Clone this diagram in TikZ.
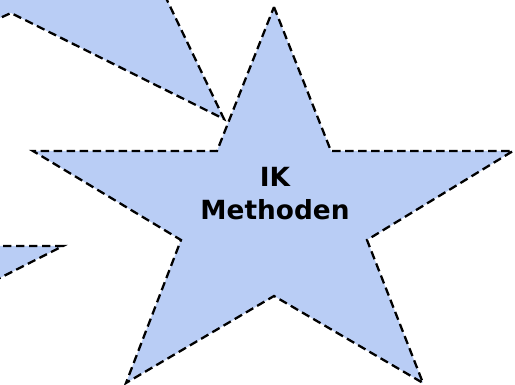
\documentclass[tikz,border=0pt]{standalone}
\usepackage{fontspec}
\setmainfont{DejaVu Sans}
\usepackage{tikz}
\usetikzlibrary{positioning}

\definecolor{starblue}{RGB}{185,205,245}

\tikzset{
    starshape/.style={fill=starblue, draw=black, line width=1.3pt,
        dash pattern=on 4.8pt off 2.6pt, line join=miter},
    label/.style={font=\fontsize{15}{18.7}\selectfont\bfseries, align=center}
}

\begin{document}
\begin{tikzpicture}[x=0.02cm, y=-0.02cm]
    % Frame
    \useasboundingbox (0,0) rectangle (515,385);
    \clip (0,0) rectangle (515,385);

    % Neighbouring stars (cut off at the edge)
    \draw[starshape] (-10,22.5) -- (11,13) -- (224,119) -- (167,0) -- (161,-12) -- (-10,-12) -- cycle;
    \draw[starshape] (-10,246) -- (63,246) -- (-10,283) -- cycle;

    % Main star
    \draw[starshape] (274,7) -- (331,151) -- (513,151) -- (367,240) -- (423,383)
        -- (274,296) -- (126,383) -- (181,240) -- (33,151) -- (217,151) -- cycle;

    % Label
    \node[label] (ik) at (275,194) {IK\\Methoden};
\end{tikzpicture}
\end{document}
